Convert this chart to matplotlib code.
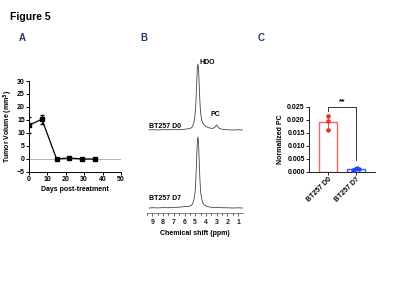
import matplotlib
matplotlib.use("Agg")
import matplotlib.pyplot as plt
import numpy as np

plt.rcParams['font.family'] = ['Liberation Sans', 'DejaVu Sans']
plt.rcParams['font.weight'] = 'bold'

# Panel A data
days = [0, 7, 15, 22, 29, 36]
tumor_volume = [13.0, 15.3, 0.0, 0.4, 0.0, 0.0]
tumor_err = [3.0, 1.8, 0.3, 0.5, 0.3, 0.3]

# Panel B data (spectra, arbitrary intensity)
ppm_d0 = [9.3, 9.0, 8.5, 8.0, 7.5, 7.0, 6.5, 6.0, 5.8, 5.6, 5.4, 5.3, 5.2, 5.1, 5.0, 4.95, 4.9,
          4.85, 4.8, 4.75, 4.7, 4.65, 4.6, 4.55, 4.5, 4.4, 4.3, 4.2, 4.0, 3.8, 3.6, 3.4, 3.2,
          3.1, 3.0, 2.9, 2.8, 2.6, 2.4, 2.0, 1.5, 1.0, 0.6]
int_d0 = [0.0, 0.4, 0.0, 0.5, 0.2, 0.6, 0.3, 0.8, 1.0, 1.3, 2.0, 3.0, 5.0, 9.0, 17.0, 26.0, 38.0,
          52.0, 63.0, 66.0, 62.0, 50.0, 36.0, 25.0, 17.0, 10.0, 7.0, 5.5, 3.5, 2.5, 1.8, 1.6, 2.5,
          4.0, 5.0, 3.5, 2.0, 1.0, 0.5, 0.3, 0.0, 0.3, 0.0]
ppm_d7 = [9.3, 9.0, 8.5, 8.0, 7.5, 7.0, 6.5, 6.2, 5.9, 5.6, 5.4, 5.3, 5.2, 5.1, 5.0, 4.95, 4.9,
          4.85, 4.8, 4.75, 4.7, 4.65, 4.6, 4.55, 4.5, 4.4, 4.3, 4.2, 4.0, 3.8, 3.5, 3.2, 3.0,
          2.8, 2.5, 2.0, 1.5, 1.0, 0.6]
int_d7 = [0.0, 0.3, 0.1, 0.4, 0.3, 0.6, 0.8, 1.2, 1.6, 1.5, 2.5, 3.5, 5.5, 9.5, 18.0, 28.0, 41.0,
          56.0, 68.0, 71.0, 66.0, 52.0, 37.0, 25.0, 16.0, 9.0, 5.5, 3.5, 2.0, 1.2, 0.7, 0.5, 0.8,
          0.4, 0.3, 0.2, 0.0, 0.2, 0.0]
spec_offset = 78
ppm_ticks = [9, 8, 7, 6, 5, 4, 3, 2, 1]

# Panel C data
groups = ['BT257 D0', 'BT257 D7']
pc_means = [0.019, 0.0010]
pc_points = [[0.0215, 0.0195, 0.0162], [0.0008, 0.0012, 0.0015, 0.0010]]
bar_edge = ['#f7675a', '#3f5bea']
pt_color = ['#e8352b', '#2648f0']

navy = '#1f3a6e'
fig = plt.figure(figsize=(4, 3), dpi=100)
fig.text(0.025, 0.945, 'Figure 5', fontsize=7.5, fontweight='bold', ha='left', va='center')
fig.text(0.047, 0.873, 'A', fontsize=7, fontweight='bold', color=navy, ha='left', va='center')
fig.text(0.35, 0.873, 'B', fontsize=7, fontweight='bold', color=navy, ha='left', va='center')
fig.text(0.643, 0.873, 'C', fontsize=7, fontweight='bold', color=navy, ha='left', va='center')

# Panel A
axA = fig.add_axes([0.0725, 0.4267, 0.23, 0.3033])
axA.axhline(0, color='#aaaaaa', lw=0.6, zorder=1)
axA.errorbar(days, tumor_volume, yerr=tumor_err, color='black', marker='s', ms=3.4,
             lw=0.9, capsize=1.5, elinewidth=0.7, zorder=3)
axA.set_xlim(0, 50)
axA.set_ylim(-5, 30)
axA.set_xticks([0, 10, 20, 30, 40, 50])
axA.set_yticks([-5, 0, 5, 10, 15, 20, 25, 30])
for s in ['top', 'right']:
    axA.spines[s].set_visible(False)
for s in ['left', 'bottom']:
    axA.spines[s].set_linewidth(0.7)
axA.tick_params(labelsize=5, width=0.7, length=2, pad=1)
axA.set_xlabel('Days post-treatment', fontsize=5, fontweight='bold', labelpad=2)
axA.set_ylabel('Tumor Volume (mm$^3$)', fontsize=5, fontweight='bold', labelpad=1)

# Panel B
axB = fig.add_axes([0.3675, 0.29, 0.24, 0.51])
axB.plot(ppm_d0, np.array(int_d0) + spec_offset, color='#444444', lw=0.6)
axB.plot(ppm_d7, int_d7, color='#444444', lw=0.6)
axB.set_xlim(9.35, 0.55)
axB.set_ylim(-5, 148)
axB.set_xticks(ppm_ticks)
axB.set_xticks([9.5, 8.5, 7.5, 6.5, 5.5, 4.5, 3.5, 2.5, 1.5], minor=True)
axB.set_yticks([])
for s in ['top', 'right', 'left']:
    axB.spines[s].set_visible(False)
axB.spines['bottom'].set_linewidth(0.5)
axB.spines['bottom'].set_color('#555555')
axB.tick_params(axis='x', labelsize=5, width=0.5, length=2, pad=2, colors='#222222')
axB.tick_params(axis='x', which='minor', width=0.5, length=1.2)
axB.set_xlabel('Chemical shift (ppm)', fontsize=5, fontweight='bold', labelpad=3)
axB.text(9.3, spec_offset + 4, 'BT257 D0', fontsize=5, fontweight='bold', ha='left', va='center')
axB.text(9.3, 10, 'BT257 D7', fontsize=5, fontweight='bold', ha='left', va='center')
axB.text(4.62, 146, 'HDO', fontsize=5, fontweight='bold', ha='left', va='center')
axB.text(3.1, spec_offset + 16, 'PC', fontsize=5, fontweight='bold', ha='center', va='center')

# Panel C
axC = fig.add_axes([0.7725, 0.4277, 0.165, 0.2167])
xpos = np.arange(len(groups))
axC.bar(xpos, pc_means, width=0.64, facecolor='white', edgecolor=bar_edge, linewidth=1.0, zorder=2)
for i, pts in enumerate(pc_points):
    jitter = np.linspace(-0.12, 0.12, len(pts)) if len(pts) > 3 else [0, 0, 0]
    axC.scatter(np.array(jitter) + i, pts, s=5, color=pt_color[i], zorder=3)
    sd = np.std(pts, ddof=1)
    axC.errorbar(i, pc_means[i], yerr=sd, color=pt_color[i], capsize=1.5, lw=0.6, zorder=3)
axC.plot([0, 0, 1, 1], [0.0233, 0.025, 0.025, 0.0045], color='#333333', lw=0.7, clip_on=False)
axC.text(0.5, 0.0257, '**', fontsize=6, fontweight='bold', ha='center', va='bottom')
axC.set_xlim(-0.68, 1.68)
axC.set_ylim(0, 0.025)
axC.set_yticks([0, 0.005, 0.010, 0.015, 0.020, 0.025])
axC.set_yticklabels(['0.000', '0.005', '0.010', '0.015', '0.020', '0.025'])
axC.set_xticks(xpos)
axC.set_xticklabels(groups, rotation=45, ha='right', rotation_mode='anchor')
for s in ['top', 'right']:
    axC.spines[s].set_visible(False)
for s in ['left', 'bottom']:
    axC.spines[s].set_linewidth(0.6)
axC.tick_params(labelsize=5, width=0.6, length=2, pad=1)
axC.set_ylabel('Normalized PC', fontsize=5, fontweight='bold', labelpad=2)

fig.savefig('out.png', dpi=100)
